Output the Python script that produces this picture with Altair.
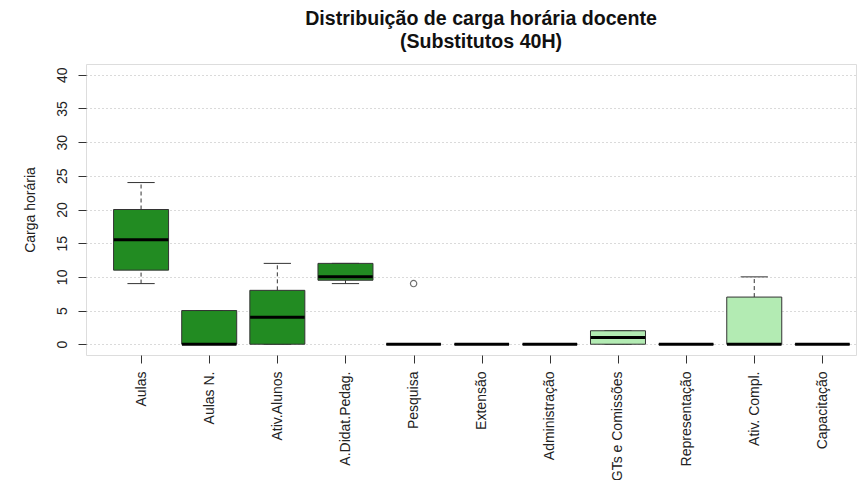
import json
import altair as alt
import pandas as pd

# ---- data ----
categories = ["Aulas", "Aulas N.", "Ativ.Alunos", "A.Didat.Pedag.", "Pesquisa",
              "Extensão", "Administração", "GTs e Comissões", "Representação",
              "Ativ. Compl.", "Capacitação"]
whisker_low = [9, 0, 0, 9, 0, 0, 0, 0, 0, 0, 0]
q1 = [11, 0, 0, 9.5, 0, 0, 0, 0, 0, 0, 0]
median = [15.5, 0, 4, 10, 0, 0, 0, 1, 0, 0, 0]
q3 = [20, 5, 8, 12, 0, 0, 0, 2, 0, 7, 0]
whisker_high = [24, 5, 12, 12, 0, 0, 0, 2, 0, 10, 0]
group = ["ensino", "ensino", "ensino", "ensino", "outras", "outras", "outras",
         "outras", "outras", "outras", "outras"]
outlier_cat = ["Pesquisa"]
outlier_val = [9]

df = pd.DataFrame({
    "cat": categories,
    "pos": list(range(1, len(categories) + 1)),
    "wlo": whisker_low, "q1": q1, "med": median, "q3": q3, "whi": whisker_high,
    "grupo": group,
})
dout = pd.DataFrame({
    "pos": [categories.index(c) + 1 for c in outlier_cat],
    "val": outlier_val,
})

FONT = "Liberation Sans"
DARK = "#333333"

xscale = alt.Scale(domain=[0.265, 11.42], nice=False, zero=False)
yscale = alt.Scale(domain=[-1.6, 41.6], nice=False, zero=False)

label_expr = json.dumps(categories, ensure_ascii=False) + "[datum.value - 1]"
xaxis = alt.Axis(values=list(range(1, len(categories) + 1)), labelExpr=label_expr,
                 title=None, grid=False, domain=False, tickSize=8, tickColor=DARK,
                 labelAngle=270, labelAlign="right", labelBaseline="middle",
                 labelPadding=8, labelFontSize=14, labelColor="#222222",
                 labelFont=FONT, labelOverlap=False, labelFlush=False)
yaxis = alt.Axis(values=list(range(0, 41, 5)), title="Carga horária", grid=True,
                 gridDash=[1, 3], gridColor="#b5b5b5", gridWidth=1, domain=False,
                 tickSize=8, tickColor=DARK, labelAngle=270, labelAlign="center",
                 labelBaseline="bottom", labelPadding=9, labelFontSize=14,
                 labelColor="#222222", labelFont=FONT, titleFont=FONT,
                 titleFontSize=14, titleFontWeight="normal", titleColor="#222222",
                 titleAngle=270, titleAlign="center", titleBaseline="bottom",
                 titleX=-49, titleY=145.5, labelFlush=False)

base = alt.Chart(df).transform_calculate(
    bl="datum.pos - 0.4", br="datum.pos + 0.4",
    cl="datum.pos - 0.2", cr="datum.pos + 0.2",
)

whisk_hi = base.mark_rule(color=DARK, strokeWidth=1, strokeDash=[4, 3]).encode(
    x=alt.X("pos:Q", scale=xscale, axis=xaxis),
    y=alt.Y("q3:Q", scale=yscale, axis=yaxis), y2="whi:Q")
whisk_lo = base.mark_rule(color=DARK, strokeWidth=1, strokeDash=[4, 3]).encode(
    x=alt.X("pos:Q", scale=xscale, axis=xaxis),
    y=alt.Y("wlo:Q", scale=yscale, axis=yaxis), y2="q1:Q")
cap_hi = base.mark_rule(color=DARK, strokeWidth=1).encode(
    x=alt.X("cl:Q", scale=xscale, axis=xaxis), x2="cr:Q",
    y=alt.Y("whi:Q", scale=yscale, axis=yaxis))
cap_lo = base.mark_rule(color=DARK, strokeWidth=1).encode(
    x=alt.X("cl:Q", scale=xscale, axis=xaxis), x2="cr:Q",
    y=alt.Y("wlo:Q", scale=yscale, axis=yaxis))
boxes = base.mark_bar(size=55, stroke=DARK, strokeWidth=1).encode(
    x=alt.X("pos:Q", scale=xscale, axis=xaxis),
    y=alt.Y("q1:Q", scale=yscale, axis=yaxis), y2="q3:Q",
    color=alt.Color("grupo:N", scale=alt.Scale(domain=["ensino", "outras"],
                                               range=["#228B22", "#B3EBB3"]),
                    legend=None))
medians = base.mark_rule(color="black", strokeWidth=3).encode(
    x=alt.X("bl:Q", scale=xscale, axis=xaxis), x2="br:Q",
    y=alt.Y("med:Q", scale=yscale, axis=yaxis))
outliers = alt.Chart(dout).mark_point(shape="circle", filled=False, size=40,
                                      color=DARK, strokeWidth=1.2).encode(
    x=alt.X("pos:Q", scale=xscale, axis=xaxis),
    y=alt.Y("val:Q", scale=yscale, axis=yaxis))

chart = alt.layer(whisk_hi, whisk_lo, cap_hi, cap_lo, boxes, medians, outliers).properties(
    width=770, height=291,
    title=alt.TitleParams(
        text=["Distribuição de carga horária docente", "(Substitutos 40H)"],
        font=FONT, fontSize=19.6, fontWeight="bold", color="#111111",
        anchor="middle", frame="group", dx=10, offset=11, lineHeight=23),
    autosize=alt.AutoSizeParams(type="none"),
    padding={"left": 78, "top": 56, "right": 3, "bottom": 125},
).configure_view(stroke=DARK, strokeWidth=1.3).configure(background="white")

chart.save("out.html", embed_options={"renderer": "svg", "actions": False})
